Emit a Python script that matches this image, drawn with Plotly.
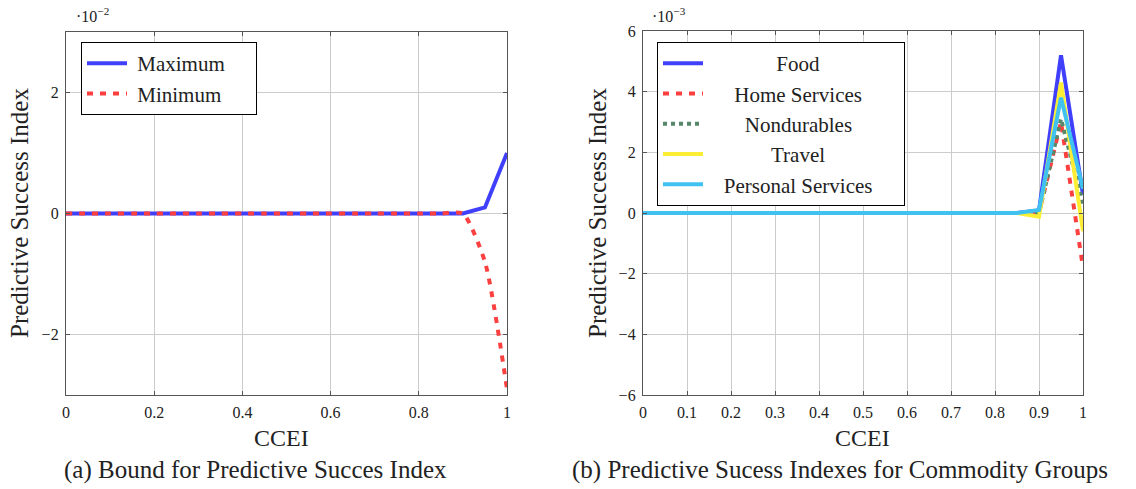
import plotly.graph_objects as go

# ---------------- data ----------------
ccei = [round(i * 0.05, 2) for i in range(21)]

# left panel (values in units of 1e-2)
maximum = [0]*18 + [0.0, 0.1, 1.0]
minimum = [0]*18 + [0.0, -0.8, -2.9]

# right panel (values in units of 1e-3)
food = [0]*17 + [0.0, 0.08, 5.2, 0.6]
home_services = [0]*17 + [0.0, 0.0, 3.0, -1.8]
nondurables = [0]*17 + [0.0, 0.0, 3.1, 0.3]
travel = [0]*17 + [0.0, -0.12, 4.3, -0.6]
personal_services = [0]*17 + [0.0, 0.1, 3.8, 0.8]

left_names = ["Maximum", "Minimum"]
right_names = ["Food", "Home Services", "Nondurables", "Travel", "Personal Services"]

left_xticks = [0, 0.2, 0.4, 0.6, 0.8, 1]
left_xticklabels = ["0", "0.2", "0.4", "0.6", "0.8", "1"]
right_xticks = [0, 0.1, 0.2, 0.3, 0.4, 0.5, 0.6, 0.7, 0.8, 0.9, 1]
right_xticklabels = ["0", "0.1", "0.2", "0.3", "0.4", "0.5", "0.6", "0.7", "0.8", "0.9", "1"]
left_yticks = [-2, 0, 2]
right_yticks = [-6, -4, -2, 0, 2, 4, 6]

# ---------------- style ----------------
FONT = "Liberation Serif"
BLUE = "rgb(64,64,252)"
RED = "rgb(252,64,64)"
GREEN = "rgb(85,135,105)"
YELLOW = "rgb(252,238,52)"
CYAN = "rgb(64,194,240)"
LW = 4
DASHED = "6px,7px"
DOTTED = "4px,4px"
NB = "\u00a0"

fig = go.Figure()

left_lead, left_trail = 1, 5
for name, ys, c, d, shape in zip(left_names, [maximum, minimum], [BLUE, RED],
                                 ["solid", DASHED], ["linear", "spline"]):
    fig.add_trace(go.Scatter(x=ccei, y=ys, mode="lines",
                             name=NB * left_lead + name + NB * left_trail,
                             line=dict(color=c, width=LW, dash=d, shape=shape, smoothing=0.6),
                             xaxis="x", yaxis="y", legend="legend"))

series = [food, home_services, nondurables, travel, personal_services]
colors = [BLUE, RED, GREEN, YELLOW, CYAN]
dashes = ["solid", DASHED, DOTTED, "solid", "solid"]
pad = {"Food": 10, "Home Services": 2, "Nondurables": 4, "Travel": 9, "Personal Services": 0}
for name, ys, c, d in zip(right_names, series, colors, dashes):
    label = NB * (3 + pad[name]) + name + (NB * 5 if pad[name] == 0 else "")
    fig.add_trace(go.Scatter(x=ccei, y=ys, mode="lines", name=label,
                             line=dict(color=c, width=LW, dash=d),
                             xaxis="x2", yaxis="y2", legend="legend2"))

W, H = 1136, 489
def px(x):
    return x / W
def py(y):
    return 1 - y / H

axis_common = dict(
    showline=True, linecolor="#555", linewidth=1.3, mirror="allticks",
    ticks="inside", ticklen=4, tickcolor="#555",
    showgrid=True, gridcolor="#cccccc", gridwidth=1,
    zeroline=False, automargin=False,
    tickfont=dict(family=FONT, size=16, color="#222"),
)

fig.update_layout(
    width=W, height=H,
    margin=dict(l=0, r=0, t=0, b=0, autoexpand=False),
    paper_bgcolor="white", plot_bgcolor="white",
    font=dict(family=FONT, color="#222"),
    xaxis=dict(domain=[px(66), px(507)], range=[0, 1], tickvals=left_xticks,
               ticktext=left_xticklabels, anchor="y", ticklabelstandoff=3, **axis_common),
    yaxis=dict(domain=[py(395), py(32)], range=[-3, 3], tickvals=left_yticks, anchor="x",
               ticklabelstandoff=3, **axis_common),
    xaxis2=dict(domain=[px(643), px(1083)], range=[0, 1], tickvals=right_xticks,
                ticktext=right_xticklabels, anchor="y2", ticklabelstandoff=3, **axis_common),
    yaxis2=dict(domain=[py(395), py(31)], range=[-6, 6], tickvals=right_yticks,
                anchor="x2", ticklabelstandoff=3, **axis_common),
    legend=dict(x=px(81), y=py(42), xanchor="left", yanchor="top",
                bordercolor="black", borderwidth=1, bgcolor="white", itemwidth=40,
                font=dict(family=FONT, size=21, color="#222"), tracegroupgap=0),
    legend2=dict(x=px(657), y=py(42), xanchor="left", yanchor="top",
                 bordercolor="black", borderwidth=1, bgcolor="white", itemwidth=40,
                 font=dict(family=FONT, size=21, color="#222"), tracegroupgap=0),
    showlegend=True,
)

ann = [
    dict(text="·10<sup>−2</sup>", x=px(74), y=py(15), xanchor="left", font_size=16),
    dict(text="·10<sup>−3</sup>", x=px(650), y=py(15), xanchor="left", font_size=16),
    dict(text="Predictive Success Index", x=px(20), y=py(213), textangle=-90, font_size=25),
    dict(text="Predictive Success Index", x=px(598), y=py(213), textangle=-90, font_size=25),
    dict(text="CCEI", x=px(281), y=py(438), font_size=24),
    dict(text="CCEI", x=px(862), y=py(438), font_size=24),
    dict(text="(a) Bound for Predictive Succes Index", x=px(255), y=py(470), font_size=25),
    dict(text="(b) Predictive Sucess Indexes for Commodity Groups", x=px(840), y=py(470), font_size=25),
]
for a in ann:
    xa = a.pop("xanchor", "center")
    fig.add_annotation(xref="paper", yref="paper", showarrow=False, xanchor=xa, yanchor="middle",
                       font=dict(family=FONT, color="#222", size=a.pop("font_size")), **a)

fig.write_html("out.html")
